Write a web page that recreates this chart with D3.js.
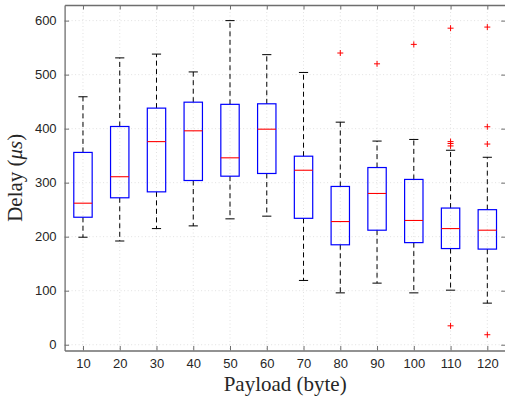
<!DOCTYPE html>
<html><head><meta charset="utf-8">
<script src="https://cdn.jsdelivr.net/npm/d3@7"></script>
<style>body{margin:0;background:#fff}svg{display:block}</style>
</head><body>
<script>
const categories = ["10","20","30","40","50","60","70","80","90","100","110","120"];
const whiskerLow  = [199, 192, 215, 220, 233, 238, 119,  96, 114,  96, 101,  77];
const q1          = [236, 272, 283, 304, 312, 317, 234, 185, 212, 189, 178, 177];
const medians     = [262, 311, 376, 396, 346, 399, 323, 228, 280, 230, 215, 212];
const q3          = [356, 404, 438, 449, 445, 446, 349, 293, 328, 306, 253, 250];
const whiskerHigh = [459, 531, 538, 505, 600, 537, 504, 412, 377, 380, 360, 347];
const outliers    = [[], [], [], [], [], [], [], [540], [520], [556], [586, 376, 372.5, 368, 35], [588, 403.5, 371.5, 18.5]];
const yTicks = [0, 100, 200, 300, 400, 500, 600];

const W = 505, H = 401;
const L = 64.6, R = 505.7, T = 5, B = 350.5;
const svg = d3.select("body").append("svg").attr("width", W).attr("height", H);

const x = d3.scaleLinear().domain([0.5, 12.5]).range([L, R]);
const y = d3.scaleLinear().domain([-10.7, 628.9]).range([B, T]);
const idx = categories.map((c, i) => i + 1);

// grid
const grid = svg.append("g").attr("stroke", "#d9d9d9").attr("stroke-width", 0.8).attr("stroke-dasharray", "1,2.5");
grid.selectAll(".gy").data(yTicks).join("line")
  .attr("x1", L).attr("x2", R).attr("y1", d => y(d)).attr("y2", d => y(d));
grid.selectAll(".gx").data(idx).join("line")
  .attr("y1", T).attr("y2", B).attr("x1", d => x(d)).attr("x2", d => x(d));

// boxes
const data = categories.map((c, i) => ({i: i + 1, lo: whiskerLow[i], q1: q1[i], med: medians[i], q3: q3[i], hi: whiskerHigh[i], out: outliers[i]}));
const bw = 0.25, cw = 0.125;
const g = svg.append("g");
g.selectAll(".wu").data(data).join("line")
  .attr("x1", d => x(d.i)).attr("x2", d => x(d.i)).attr("y1", d => y(d.q3)).attr("y2", d => y(d.hi))
  .attr("stroke", "#000").attr("stroke-width", 1).attr("stroke-dasharray", "5,3.5");
g.selectAll(".wl").data(data).join("line")
  .attr("x1", d => x(d.i)).attr("x2", d => x(d.i)).attr("y1", d => y(d.q1)).attr("y2", d => y(d.lo))
  .attr("stroke", "#000").attr("stroke-width", 1).attr("stroke-dasharray", "5,3.5");
g.selectAll(".cu").data(data).join("line")
  .attr("x1", d => x(d.i - cw)).attr("x2", d => x(d.i + cw)).attr("y1", d => y(d.hi)).attr("y2", d => y(d.hi))
  .attr("stroke", "#000").attr("stroke-width", 1);
g.selectAll(".cl").data(data).join("line")
  .attr("x1", d => x(d.i - cw)).attr("x2", d => x(d.i + cw)).attr("y1", d => y(d.lo)).attr("y2", d => y(d.lo))
  .attr("stroke", "#000").attr("stroke-width", 1);
g.selectAll(".box").data(data).join("rect")
  .attr("x", d => x(d.i - bw)).attr("width", d => x(d.i + bw) - x(d.i - bw))
  .attr("y", d => y(d.q3)).attr("height", d => y(d.q1) - y(d.q3))
  .attr("fill", "none").attr("stroke", "#0000ff").attr("stroke-width", 1.2);
g.selectAll(".med").data(data).join("line")
  .attr("x1", d => x(d.i - bw)).attr("x2", d => x(d.i + bw)).attr("y1", d => y(d.med)).attr("y2", d => y(d.med))
  .attr("stroke", "#ff0000").attr("stroke-width", 1.1);
const pts = data.flatMap(d => d.out.map(v => ({i: d.i, v})));
const ps = 3;
g.selectAll(".oh").data(pts).join("path")
  .attr("d", d => `M${x(d.i) - ps},${y(d.v)}H${x(d.i) + ps}M${x(d.i)},${y(d.v) - ps}V${y(d.v) + ps}`)
  .attr("stroke", "#ff0000").attr("stroke-width", 1).attr("fill", "none");

// axes frame
const ax = svg.append("g");
const axColor = "#6e6e6e";
const tl = 4.5;
const styleAxis = s => { s.select(".domain").attr("stroke", axColor).attr("stroke-width", 1.3); s.selectAll(".tick line").attr("stroke", axColor); s.selectAll("text").attr("fill", "#262626").attr("font-size", 13).attr("font-family", "Liberation Sans, Arial, sans-serif"); };
ax.append("g").attr("transform", `translate(0,${B})`)
  .call(d3.axisBottom(x).tickValues(idx).tickFormat(d => categories[d - 1]).tickSizeInner(-tl).tickSizeOuter(0).tickPadding(8))
  .call(styleAxis);
ax.append("g").attr("transform", `translate(${L},0)`)
  .call(d3.axisLeft(y).tickValues(yTicks).tickSizeInner(-tl).tickSizeOuter(0).tickPadding(8))
  .call(styleAxis);
ax.append("g").attr("transform", `translate(0,${T})`)
  .call(d3.axisTop(x).tickValues(idx).tickFormat("").tickSizeInner(-tl).tickSizeOuter(0))
  .call(styleAxis);
ax.append("g").attr("transform", `translate(${R},0)`)
  .call(d3.axisRight(y).tickValues(yTicks).tickFormat("").tickSizeInner(-tl).tickSizeOuter(0))
  .call(styleAxis);

// labels
svg.append("text").attr("x", (L + R) / 2).attr("y", 391).attr("text-anchor", "middle")
  .attr("font-family", "Liberation Serif, Times New Roman, serif").attr("font-size", 21).attr("fill", "#262626")
  .text("Payload (byte)");
const yl = svg.append("text").attr("transform", `translate(22,${(T + B) / 2}) rotate(-90)`).attr("text-anchor", "middle")
  .attr("font-family", "Liberation Serif, Times New Roman, serif").attr("font-size", 21).attr("fill", "#262626");
yl.append("tspan").text("Delay (");
yl.append("tspan").attr("font-style", "italic").text("μs");
yl.append("tspan").text(")");
</script>
</body></html>
